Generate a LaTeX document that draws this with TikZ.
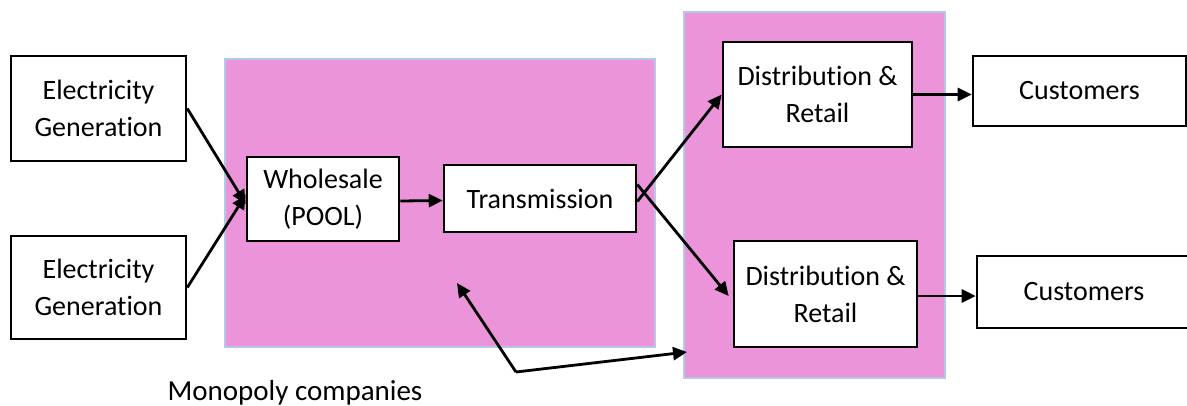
\documentclass[tikz,border=0pt]{standalone}
\usepackage{fontspec}
\setmainfont{Carlito}[RawFeature={-liga;-clig;-dlig;-calt;-rlig}]
\usetikzlibrary{arrows.meta}
\definecolor{pinkfill}{RGB}{236,148,218}
\definecolor{pinkedge}{RGB}{180,200,232}
\tikzset{
  box/.style={draw=black, line width=2.6pt, fill=white, align=center, inner sep=0pt,
    font=\fontsize{28}{37}\selectfont},
  region/.style={fill=pinkfill, draw=pinkedge, line width=1.8pt},
  conn/.style={line width=2.8pt, -{Triangle[length=14pt,width=13pt]}},
}
\begin{document}
\begin{tikzpicture}[x=1pt,y=-1pt]
\useasboundingbox (0,0) rectangle (1187,405);
% regions
\draw[region] (225,59) rectangle (655,347);
\draw[region] (684,12) rectangle (945,378);
% nodes
\node[box, minimum width=175pt, minimum height=105pt] (g1) at (98.5,108.5) {Electricity\\Generation};
\node[box, minimum width=175pt, minimum height=103pt] (g2) at (98.5,287.5) {Electricity\\Generation};
\node[box, minimum width=152pt, minimum height=84pt] (w) at (323,199) {Wholesale\\(POOL)};
\node[box, minimum width=192pt, minimum height=67pt] (t) at (540,198.5) {Transmission};
\node[box, minimum width=189pt, minimum height=105pt] (d1) at (817.5,94.5) {Distribution \&\\Retail};
\node[box, minimum width=183pt, minimum height=106pt] (d2) at (825.5,294) {Distribution \&\\Retail};
\node[box, minimum width=213pt, minimum height=70pt] (c1) at (1079.5,91) {Customers};
\node[box, minimum width=214pt, minimum height=72pt] (c2) at (1084,292) {Customers};
\node[font=\fontsize{29}{36}\selectfont, anchor=base] (mono) at (295,400) {Monopoly companies};
\coordinate (v) at (516,372);
\coordinate (tipA) at (457,283);
\coordinate (tipB) at (687,352);
% connectors
\draw[conn] (g1.east) -- ([yshift=-5pt]w.west);
\draw[conn] (g2.east) -- ([yshift=4pt]w.west);
\draw[conn] ([yshift=-2pt]w.east) -- ([yshift=-1.5pt]w.east -| t.west);
\draw[conn] ([yshift=-3pt]t.east) -- (d1.west);
\draw[conn] ([yshift=14pt]t.east) -- ([xshift=-4pt,yshift=-2pt]d2.west);
\draw[conn] (d1.east) -- (d1.east -| c1.west);
\draw[conn] ([yshift=-2pt]d2.east) -- ([yshift=-2pt]d2.east -| c2.west);
\draw[conn] (v) -- (tipA);
\draw[conn] (v) -- (tipB);
\end{tikzpicture}
\end{document}
